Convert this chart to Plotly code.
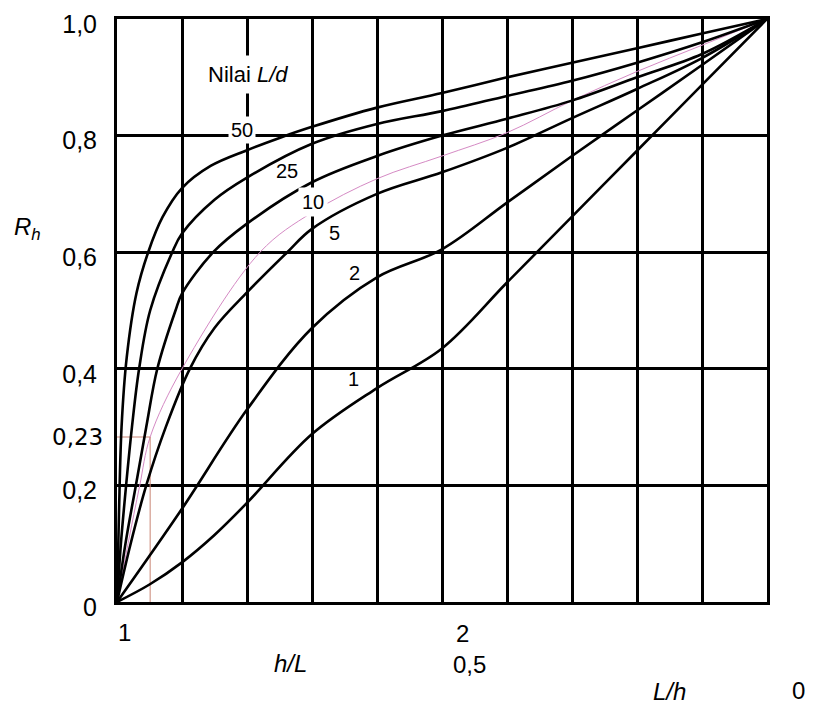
import plotly.graph_objects as go

# x = L/h (1 at left -> 0 at right), y = R_h
ld_labels = ["50", "25", "10", "5", "2", "1"]

x_50 = [1.0, 0.997, 0.993, 0.985, 0.97, 0.952, 0.93, 0.9, 0.856, 0.8, 0.75, 0.7, 0.6, 0.5, 0.4, 0.3, 0.2, 0.1, 0.0]
y_50 = [0.0, 0.15, 0.3, 0.42, 0.53, 0.6, 0.66, 0.71, 0.748, 0.775, 0.796, 0.815, 0.848, 0.873, 0.9, 0.925, 0.95, 0.975, 1.0]

x_25 = [1.0, 0.994, 0.986, 0.977, 0.966, 0.949, 0.915, 0.9, 0.85, 0.8, 0.7, 0.6, 0.5, 0.4, 0.3, 0.2, 0.1, 0.0]
y_25 = [0.0, 0.1, 0.2, 0.3, 0.4, 0.5, 0.6, 0.632, 0.69, 0.728, 0.786, 0.82, 0.842, 0.868, 0.894, 0.925, 0.96, 1.0]

x_10 = [1.0, 0.987, 0.971, 0.955, 0.938, 0.91, 0.9, 0.852, 0.8, 0.7, 0.6, 0.5, 0.4, 0.3, 0.2, 0.1, 0.0]
y_10 = [0.0, 0.1, 0.2, 0.3, 0.4, 0.5, 0.529, 0.6, 0.649, 0.72, 0.765, 0.8, 0.829, 0.86, 0.9, 0.94, 1.0]

x_5 = [1.0, 0.979, 0.955, 0.925, 0.888, 0.85, 0.8, 0.738, 0.7, 0.6, 0.5, 0.4, 0.3, 0.2, 0.1, 0.0]
y_5 = [0.0, 0.1, 0.2, 0.3, 0.4, 0.47, 0.531, 0.6, 0.64, 0.7, 0.737, 0.779, 0.83, 0.88, 0.933, 1.0]

x_2 = [1.0, 0.9, 0.8, 0.7, 0.6, 0.5, 0.4, 0.3, 0.2, 0.1, 0.0]
y_2 = [0.0, 0.16, 0.33, 0.47, 0.557, 0.605, 0.685, 0.765, 0.843, 0.921, 1.0]

x_1 = [1.0, 0.95, 0.9, 0.85, 0.8, 0.7, 0.6, 0.5, 0.4, 0.3, 0.2, 0.1, 0.0]
y_1 = [0.0, 0.03, 0.068, 0.115, 0.17, 0.288, 0.367, 0.435, 0.548, 0.661, 0.774, 0.887, 1.0]

# thin hand-drawn (pink) interpolated curve
x_pink = [1.0, 0.983, 0.965, 0.949, 0.9, 0.78, 0.7, 0.6, 0.5, 0.4, 0.3, 0.2, 0.1, 0.0]
y_pink = [0.0, 0.1, 0.2, 0.283, 0.4, 0.6, 0.668, 0.726, 0.765, 0.805, 0.86, 0.91, 0.955, 1.0]

# reading line for R_h = 0,23
x_read = [1.006, 0.949, 0.949]
y_read = [0.283, 0.283, 0.0]

y_tickvals = [0, 0.2, 0.4, 0.6, 0.8, 1.0]
y_ticktext = ["0", "0,2", "0,4", "0,6", "0,8", "1,0"]

curves = [(x_50, y_50), (x_25, y_25), (x_10, y_10), (x_5, y_5), (x_2, y_2), (x_1, y_1)]

FONT = "Liberation Sans, Arial, sans-serif"

fig = go.Figure()
fig.add_trace(go.Scatter(x=x_pink, y=y_pink, mode="lines",
                         line=dict(color="#d58ac4", width=1, shape="spline", smoothing=1.0),
                         hoverinfo="skip"))
fig.add_trace(go.Scatter(x=x_read, y=y_read, mode="lines", cliponaxis=False,
                         line=dict(color="#c98474", width=1), hoverinfo="skip"))
for name, (xs, ys) in zip(ld_labels, curves):
    fig.add_trace(go.Scatter(x=xs, y=ys, mode="lines", name=name,
                             line=dict(color="black", width=2.6, shape="spline", smoothing=1.0)))

annots = [
    dict(x=0.798, y=0.904, text="Nilai <i>L/d</i>", size=22, bg=True, pad=6),
    dict(x=0.807, y=0.81, text="50", size=20, bg=True, pad=2),
    dict(x=0.738, y=0.739, text="25", size=20, bg=False, pad=1),
    dict(x=0.698, y=0.686, text="10", size=20, bg=True, pad=3),
    dict(x=0.665, y=0.633, text="5", size=20, bg=False, pad=1),
    dict(x=0.634, y=0.564, text="2", size=20, bg=False, pad=1),
    dict(x=0.636, y=0.382, text="1", size=20, bg=False, pad=1),
]
for a in annots:
    fig.add_annotation(x=a["x"], y=a["y"], xref="x", yref="y", text=a["text"], showarrow=False,
                       xanchor="center", yanchor="middle",
                       font=dict(family=FONT, size=a["size"], color="black"),
                       bgcolor="white" if a["bg"] else None, borderpad=a["pad"])

# bottom axis texts (paper coordinates)
bottom_x = [0.012, 0.531, 0.542, 1.049, 0.267, 0.85]
bottom_y = [-0.052, -0.054, -0.108, -0.151, -0.105, -0.154]
bottom_t = ["1", "2", "0,5", "0", "<i>h/L</i>", "<i>L/h</i>"]
for x, y, t in zip(bottom_x, bottom_y, bottom_t):
    fig.add_annotation(x=x, y=y, xref="paper", yref="paper", text=t, showarrow=False,
                       xanchor="center", yanchor="middle",
                       font=dict(family=FONT, size=24, color="black"))

fig.add_annotation(x=-0.137, y=0.641, xref="paper", yref="paper", text="<i>R</i><sub><i>h</i></sub>",
                   showarrow=False, xanchor="center", yanchor="middle",
                   font=dict(family=FONT, size=24, color="black"))
fig.add_annotation(x=-0.018, y=0.283, xref="paper", yref="y", text="0,23", xanchor="right",
                   yanchor="middle", showarrow=False,
                   font=dict(family="DejaVu Sans", size=23, color="black"))

fig.update_xaxes(range=[1, 0], tick0=0, dtick=0.1, showgrid=True, gridcolor="black", gridwidth=2.6,
                 zeroline=False, showline=True, mirror=True, linecolor="black", linewidth=3,
                 showticklabels=False, ticks="", automargin=False)
fig.update_yaxes(range=[0, 1], tickvals=y_tickvals, ticktext=y_ticktext, showgrid=True,
                 gridcolor="black", gridwidth=2.6, zeroline=False, showline=True, mirror=True,
                 linecolor="black", linewidth=3, ticks="", ticklabelstandoff=12, automargin=False,
                 ticklabeloverflow="allow", ticklabelshift=5,
                 tickfont=dict(family=FONT, size=25, color="black"))
fig.update_layout(width=813, height=709, margin=dict(l=109, r=54, t=11, b=115),
                  plot_bgcolor="white", paper_bgcolor="white", showlegend=False)

fig.write_html("out.html")
